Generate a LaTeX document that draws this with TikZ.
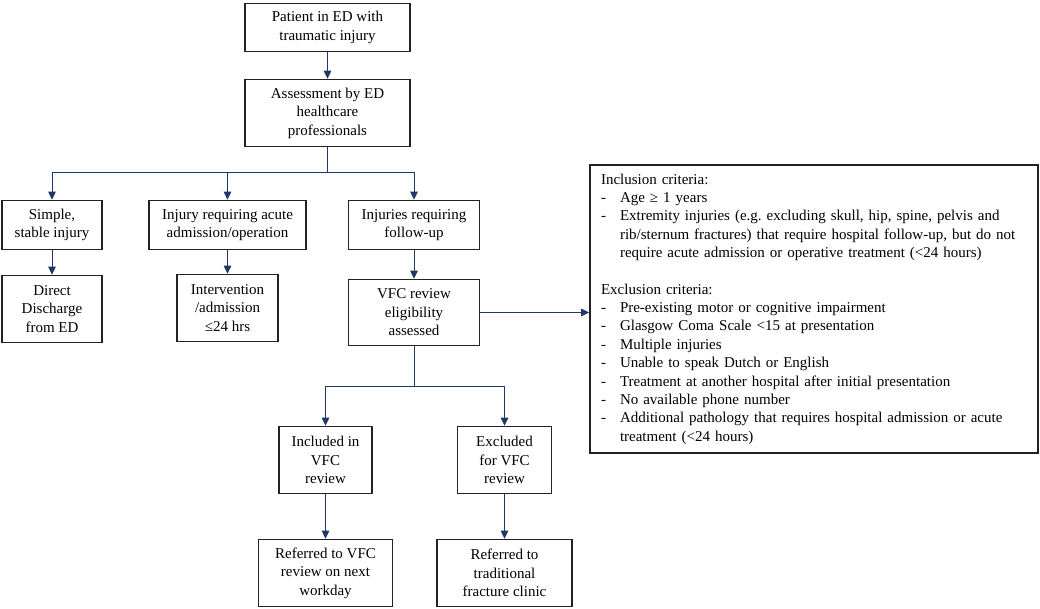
\documentclass[tikz,border=0pt]{standalone}
\usepackage{fontspec}
\setmainfont{Liberation Serif}
\usetikzlibrary{arrows.meta}
\definecolor{navy}{HTML}{1F3864}
\definecolor{boxline}{HTML}{222222}
\frenchspacing
\begin{document}
\begin{tikzpicture}[x=1pt,y=-1pt,
  box/.style={draw=boxline,line width=1.6pt,align=center,inner sep=0pt,
    font=\fontsize{15}{18.6}\selectfont},
  conn/.style={draw=navy,line width=1pt},
  arr/.style={conn,-{Triangle[width=7.5pt,length=8pt]}}]
\useasboundingbox (0,0) rectangle (1040,609);
\node[box,minimum width=165pt,minimum height=48pt] (top) at (327.5,27.5) {Patient in ED with\\traumatic injury};
\node[box,minimum width=165pt,minimum height=67pt] (assess) at (327.5,113) {Assessment by ED\\healthcare\\professionals};
\node[box,minimum width=100pt,minimum height=49pt] (simple) at (52,225) {Simple,\\stable injury};
\node[box,minimum width=157pt,minimum height=49pt] (acute) at (227.5,225) {Injury requiring acute\\admission/operation};
\node[box,minimum width=131pt,minimum height=49pt] (follow) at (414,225) {Injuries requiring\\follow-up};
\node[box,minimum width=100pt,minimum height=67pt] (direct) at (52,309) {Direct\\Discharge\\from ED};
\node[box,minimum width=101pt,minimum height=67pt] (interv) at (227.5,308) {Intervention\\/admission\\≤24 hrs};
\node[box,minimum width=131pt,minimum height=66pt] (vfc) at (414,312.5) {VFC review\\eligibility\\assessed};
\node[box,align=left,minimum width=448pt,minimum height=288pt,inner xsep=11pt,text width=426pt,
  font=\fontsize{15}{18.36}\selectfont] (crit) at (814,309) {Inclusion criteria:\\
\makebox[19pt][l]{-}Age ≥ 1 years\\
\makebox[19pt][l]{-}Extremity injuries (e.g. excluding skull, hip, spine, pelvis and\\
\hspace*{19pt}rib/sternum fractures) that require hospital follow-up, but do not\\
\hspace*{19pt}require acute admission or operative treatment (<24 hours)\\[18.36pt]
Exclusion criteria:\\
\makebox[19pt][l]{-}Pre-existing motor or cognitive impairment\\
\makebox[19pt][l]{-}Glasgow Coma Scale <15 at presentation\\
\makebox[19pt][l]{-}Multiple injuries\\
\makebox[19pt][l]{-}Unable to speak Dutch or English\\
\makebox[19pt][l]{-}Treatment at another hospital after initial presentation\\
\makebox[19pt][l]{-}No available phone number\\
\makebox[19pt][l]{-}Additional pathology that requires hospital admission or acute\\
\hspace*{19pt}treatment (<24 hours)};
\node[box,minimum width=93pt,minimum height=67pt] (incl) at (325.5,460) {Included in\\VFC\\review};
\node[box,minimum width=94pt,minimum height=67pt] (excl) at (504.5,460) {Excluded\\for VFC\\review};
\node[box,minimum width=134pt,minimum height=67pt] (refv) at (325.5,573) {Referred to VFC\\review on next\\workday};
\node[box,minimum width=135pt,minimum height=67pt] (reft) at (504.5,573) {Referred to\\traditional\\fracture clinic};
\coordinate (br) at (327.5,173);
\coordinate (sp) at (414,386);
\draw[arr] (top) -- (assess);
\draw[conn] (assess) -- (br);
\draw[arr] (br) -| (simple);
\draw[arr] (br) -| (acute);
\draw[arr] (br) -| (follow);
\draw[arr] (simple) -- (direct);
\draw[arr] (acute) -- (interv);
\draw[arr] (follow) -- (vfc);
\draw[arr] (vfc.east) -- (crit.west |- vfc.east);
\draw[conn] (vfc) -- (sp);
\draw[arr] (sp) -| (incl);
\draw[arr] (sp) -| (excl);
\draw[arr] (incl) -- (refv);
\draw[arr] (excl) -- (reft);
\end{tikzpicture}
\end{document}
